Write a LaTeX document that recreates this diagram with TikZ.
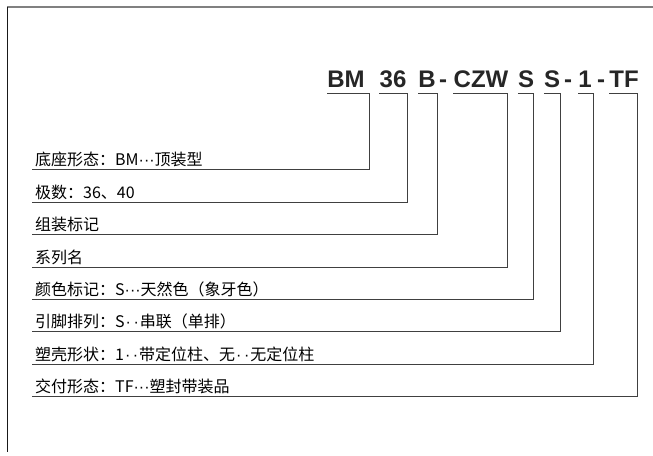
\documentclass[tikz,border=0pt]{standalone}
\usepackage{fontspec}
\setmainfont{Noto Sans CJK SC}
\newfontfamily\codefont{Liberation Sans}
\newcommand{\tridot}{{\codefont ···}}
\newcommand{\duodot}{{\codefont\kern1pt·\kern2.5pt·\kern1pt}}
\tikzset{
  codepart/.style={font=\codefont\bfseries\fontsize{24}{24}\selectfont, inner sep=0pt, anchor=base, text=black!85},
  rowlabel/.style={font=\fontsize{16}{17}\selectfont, inner sep=0pt, anchor=base west, text=black},
  leader/.style={draw=black!75, line width=0.8pt},
}
\begin{document}
\begin{tikzpicture}[x=1pt,y=-1pt]
\useasboundingbox (0,0) rectangle (653,455);
\draw[black!50, line width=1.3pt] (7,7) -- (653,7);% Top Edge
\draw[black!90, line width=1pt] (7,7) -- (7,452);% Left Edge

% type code
\node[codepart] (bm) at (346,87) {BM};
\node[codepart] (pole) at (393,87) {36};
\node[codepart] (asm) at (427,87) {B};
\node[codepart] (dasha) at (443,87) {-};
\node[codepart] (series) at (481,87) {CZW};
\node[codepart] (color) at (526,87) {S};
\node[codepart] (pin) at (552,87) {S};
\node[codepart] (dashb) at (568,87) {-};
\node[codepart] (shell) at (585,87) {1};
\node[codepart] (dashc) at (601,87) {-};
\node[codepart] (pack) at (624,87) {TF};

% meanings
\node[rowlabel] (l1) at (35,165) {底座形态：BM\tridot 顶装型};
\node[rowlabel] (l2) at (35,198) {极数：36、40};
\node[rowlabel] (l3) at (35,230) {组装标记};
\node[rowlabel] (l4) at (35,263) {系列名};
\node[rowlabel] (l5) at (35,295) {颜色标记：S\tridot 天然色（象牙色）};
\node[rowlabel] (l6) at (35,327) {引脚排列：S\duodot 串联（单排）};
\node[rowlabel] (l7) at (35,360) {塑壳形状：1\duodot 带定位柱、无\duodot 无定位柱};
\node[rowlabel] (l8) at (35,392) {交付形态：TF\tridot 塑封带装品};

% leaders
\foreach \part/\row/\xv [count=\i] in {bm/169/369, pole/202/407, asm/234/437, series/267/507, color/299/533, pin/331/560, shell/364/593, pack/396/637}{
  \coordinate (k\i) at (\xv,\row);
  \coordinate (e\i) at (32,\row);
  \draw[leader] ([yshift=-6pt]\part.base west) -| (k\i) -- (e\i);
}
\end{tikzpicture}
\end{document}
